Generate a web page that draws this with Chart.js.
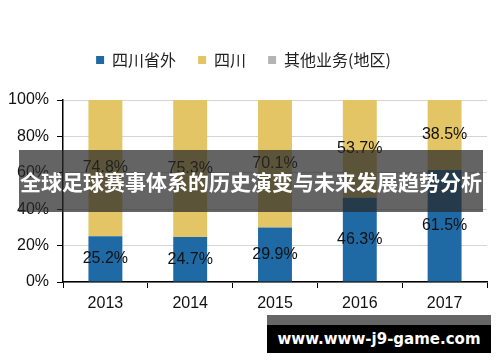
<!DOCTYPE html>
<html>
<head>
<meta charset="utf-8">
<script src="https://cdn.jsdelivr.net/npm/chart.js@4"></script>
<style>
  body { margin: 0; background: #fff; }
  #wrap { position: relative; width: 500px; height: 362px; }
  #banner {
    position: absolute; left: 19px; top: 150px; width: 464px; height: 62px;
    background: rgba(40, 40, 40, 0.72); color: #fff;
    font: bold 21px "Noto Sans CJK SC", sans-serif; white-space: nowrap;
    display: flex; align-items: center; justify-content: center;
  }
  #mark {
    position: absolute; left: 267px; top: 315px; width: 224px; height: 38px;
    background: #000; border-top: 10px solid #666; box-sizing: border-box;
    color: #fff; font: bold 15px "DejaVu Sans", sans-serif; white-space: nowrap;
    display: flex; align-items: center; justify-content: center;
  }
</style>
</head>
<body>
<div id="wrap">
  <canvas id="chart" width="500" height="362"></canvas>
  <div id="banner">全球足球赛事体系的历史演变与未来发展趋势分析</div>
  <div id="mark">www.www-j9-game.com</div>
</div>
<script>
const years = ['2013', '2014', '2015', '2016', '2017'];
const outsideSichuan = [25.2, 24.7, 29.9, 46.3, 61.5];
const sichuan = [74.8, 75.3, 70.1, 53.7, 38.5];
const other = [0, 0, 0, 0, 0];

// draw the percentage inside each segment
const segmentLabels = {
    id: 'segmentLabels',
    afterDatasetsDraw(chart) {
        const ctx = chart.ctx;
        ctx.save();
        ctx.font = '16px "Liberation Sans", Arial, sans-serif';
        ctx.fillStyle = '#111';
        ctx.textAlign = 'center';
        ctx.textBaseline = 'middle';
        chart.data.datasets.forEach((ds, i) => {
            if (!ds.showValues) return;
            chart.getDatasetMeta(i).data.forEach((bar, j) => {
                const v = ds.data[j];
                ctx.fillText(v.toFixed(1) + '%', bar.x, (bar.y + bar.base) / 2);
            });
        });
        ctx.restore();
    }
};

// more room between legend and plot
const legendGap = {
    id: 'legendGap',
    beforeInit(chart) {
        const fit = chart.legend.fit;
        chart.legend.fit = function () {
            fit.call(this);
            this.height += 22;
        };
    }
};

const ctx = document.getElementById('chart').getContext('2d');
new Chart(ctx, {
    type: 'bar',
    data: {
        labels: years,
        datasets: [
            { label: '四川省外', data: outsideSichuan, backgroundColor: '#1f6aa5', showValues: true },
            { label: '四川', data: sichuan, backgroundColor: '#e3c565', showValues: true },
            { label: '其他业务(地区)', data: other, backgroundColor: '#b4b4b4' }
        ]
    },
    options: {
        responsive: false,
        animation: false,
        layout: { padding: { top: 30, right: 13, left: 0, bottom: 0 } },
        datasets: { bar: { barPercentage: 0.8, categoryPercentage: 0.5 } },
        plugins: {
            legend: {
                position: 'top',
                labels: {
                    boxWidth: 8, boxHeight: 8, padding: 22,
                    color: '#222',
                    font: { size: 16, family: '"Noto Sans CJK SC", sans-serif' }
                }
            },
            tooltip: { enabled: false }
        },
        scales: {
            x: {
                stacked: true,
                grid: { offset: true, drawOnChartArea: false, tickLength: 6, tickColor: '#000' },
                border: { color: '#000', width: 1.5 },
                ticks: { color: '#111', padding: 6, font: { size: 16, family: '"Liberation Sans", Arial, sans-serif' } },
                afterFit(scale) { scale.height = 80; }
            },
            y: {
                stacked: true,
                min: 0, max: 100,
                grid: { color: '#d4d4d4', tickLength: 6, tickColor: '#000' },
                border: { color: '#000', width: 1.5 },
                ticks: {
                    stepSize: 20, color: '#111', padding: 8,
                    font: { size: 16, family: '"Liberation Sans", Arial, sans-serif' },
                    callback: v => v + '%'
                },
                afterFit(scale) { scale.width = 63; }
            }
        }
    },
    plugins: [segmentLabels, legendGap]
});
</script>
</body>
</html>
